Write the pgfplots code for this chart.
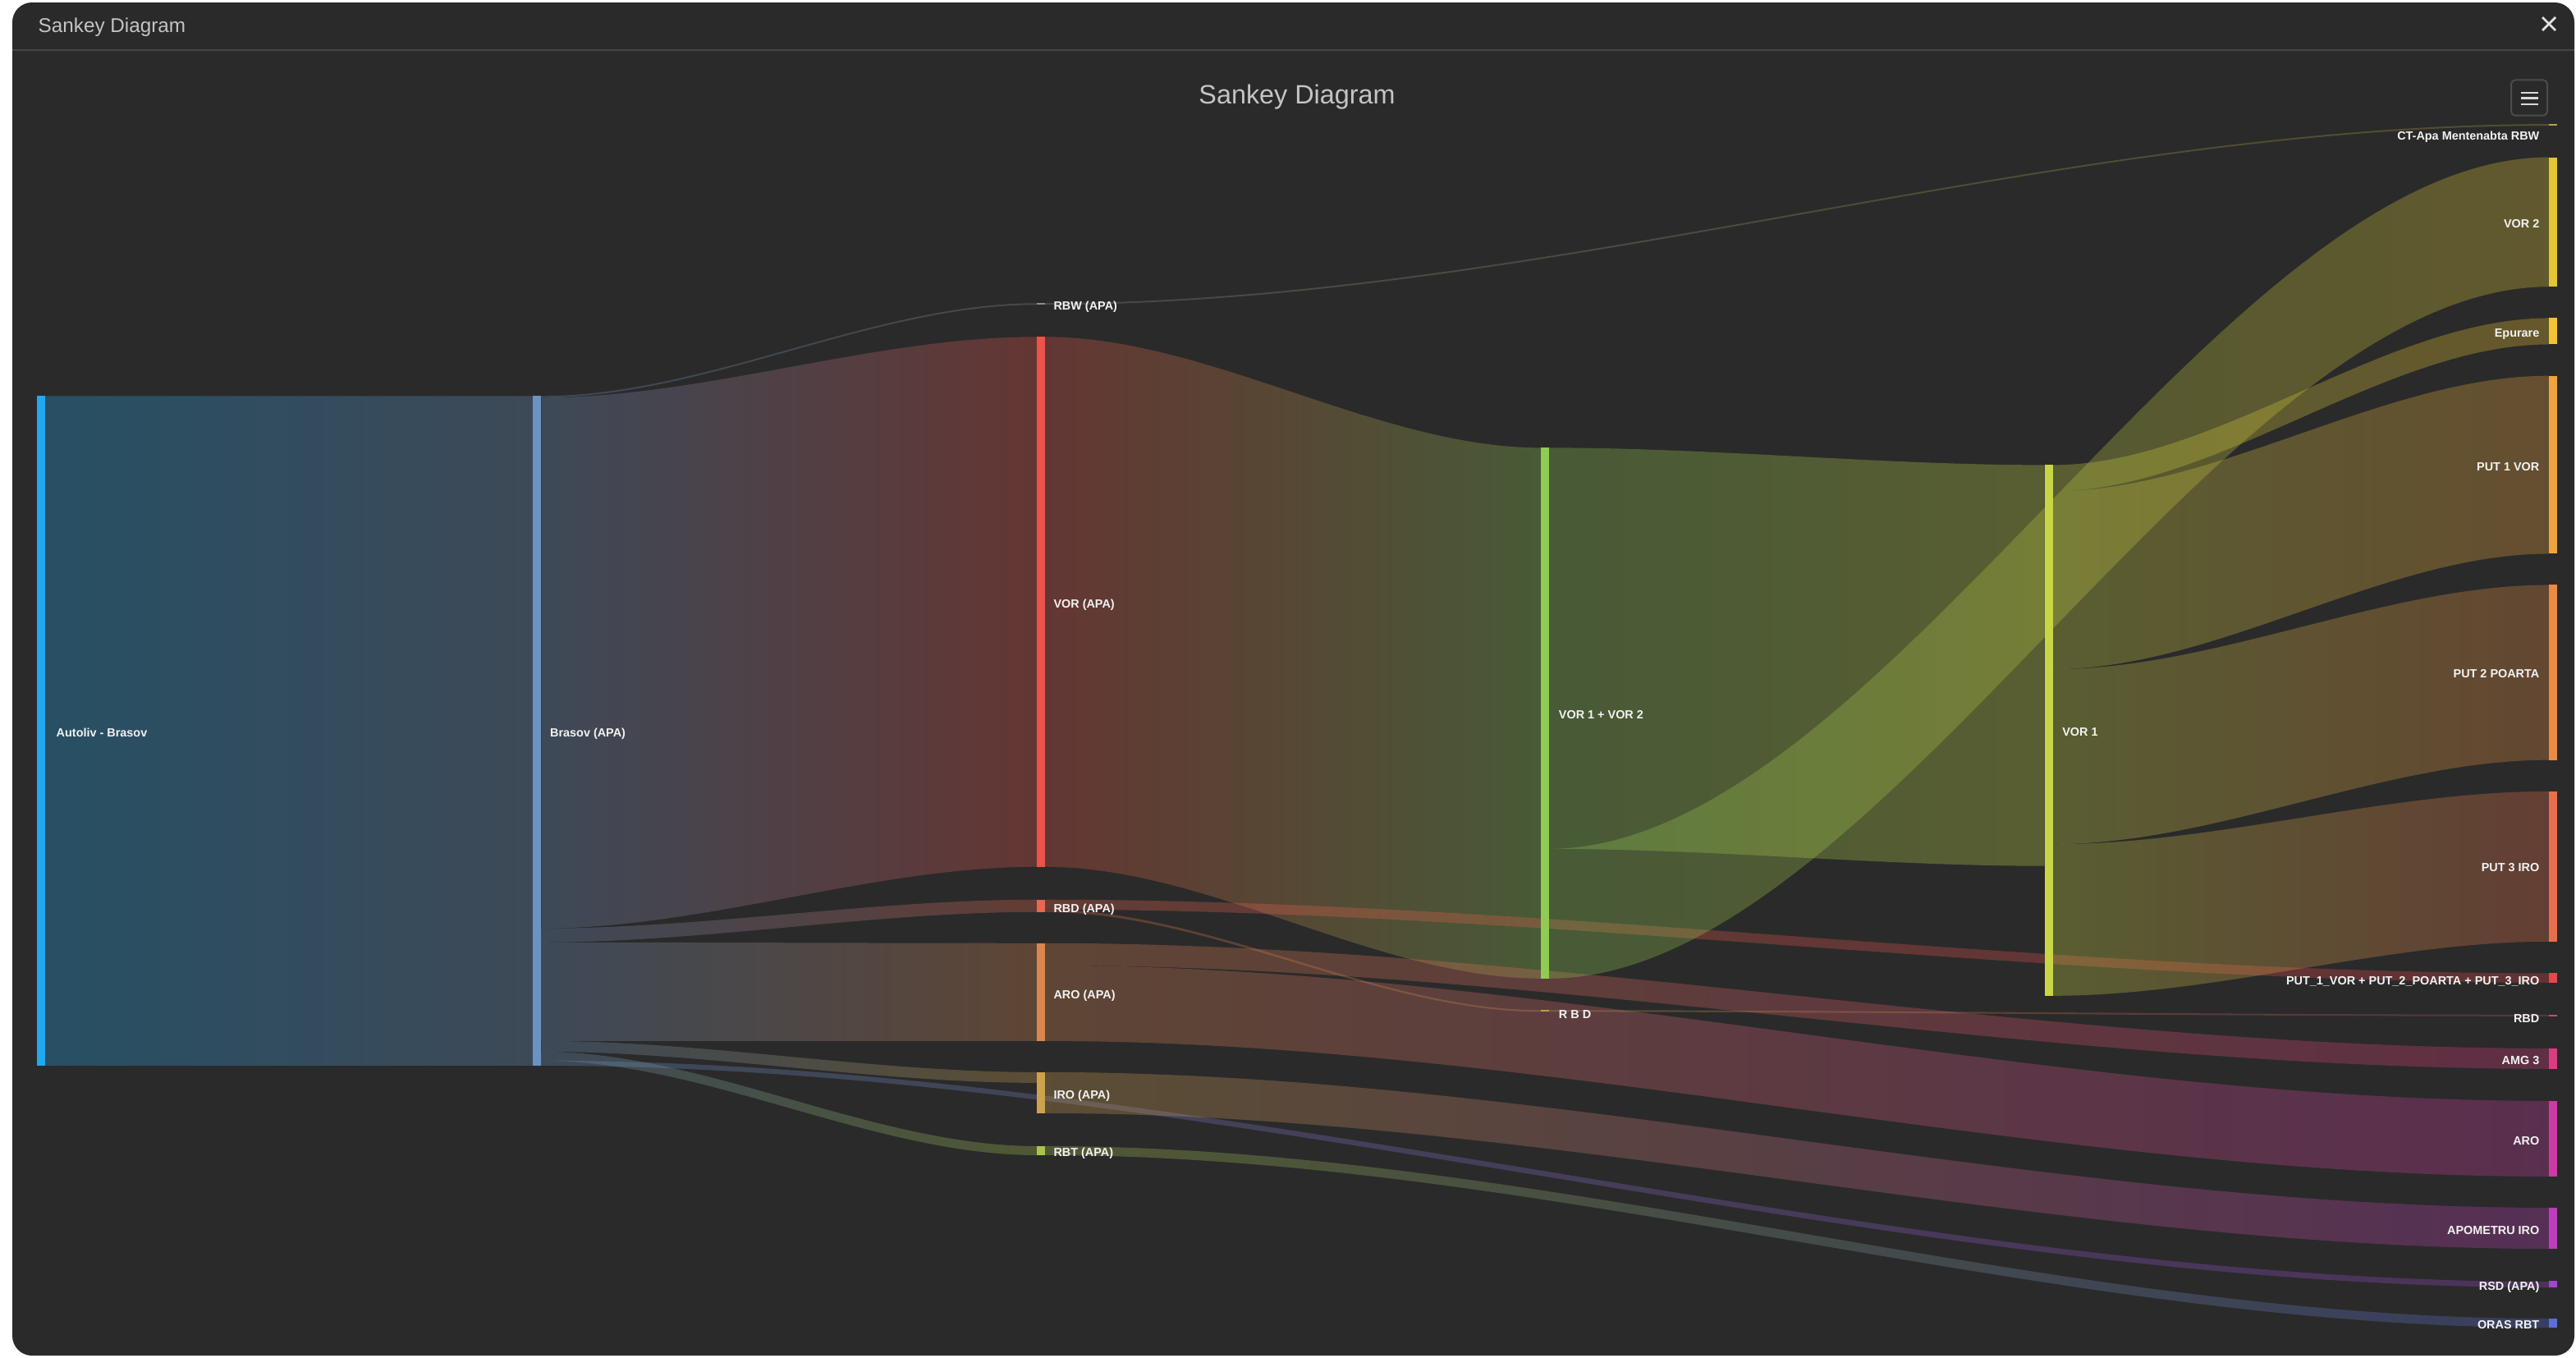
\documentclass[border=0pt]{standalone}
\usepackage{fontspec}
\setmainfont{Liberation Sans}
\usepackage{pgfplots}
\pgfplotsset{compat=1.18}

\definecolor{panel}{HTML}{2A2A2A}
\definecolor{sepline}{HTML}{464646}
\definecolor{labc}{HTML}{F2F2F2}
\definecolor{titlec}{HTML}{C4C4C4}
% node colours
\definecolor{cAut}{HTML}{22A8EC}
\definecolor{cBra}{HTML}{6B93C2}
\definecolor{cRBWa}{HTML}{8C9090}
\definecolor{cVORa}{HTML}{EB5448}
\definecolor{cRBDa}{HTML}{E6694F}
\definecolor{cAROa}{HTML}{D9864F}
\definecolor{cIROa}{HTML}{CDA24E}
\definecolor{cRBTa}{HTML}{A8C54A}
\definecolor{cV12}{HTML}{8FCB55}
\definecolor{cRBDm}{HTML}{B89F4A}
\definecolor{cV1}{HTML}{C8D545}
\definecolor{cCT}{HTML}{B0A540}
\definecolor{cV2}{HTML}{E4C634}
\definecolor{cEpu}{HTML}{F4C232}
\definecolor{cP1}{HTML}{EFA43E}
\definecolor{cP2}{HTML}{EC8A44}
\definecolor{cP3}{HTML}{E86E4D}
\definecolor{cPall}{HTML}{E6474F}
\definecolor{cRBD}{HTML}{D94462}
\definecolor{cAMG}{HTML}{DA3C82}
\definecolor{cARO}{HTML}{CC3AA6}
\definecolor{cAPO}{HTML}{BD3DBA}
\definecolor{cRSD}{HTML}{9E46CC}
\definecolor{cORAS}{HTML}{5B6FDB}

\newcommand{\lab}{\fontsize{4.1}{4.9}\selectfont\bfseries}

% link: x1, y1top, y1bot, x2, y2top, y2bot, colour from, colour to
\newcommand{\link}[8]{%
  \pgfplotsextra{%
    \pgfmathsetmacro\xca{#1+0.33*(#4-#1)}%
    \pgfmathsetmacro\xcb{#4-0.33*(#4-#1)}%
    \shade[left color=#7,right color=#8,opacity=0.3]
      (#1,#2) .. controls (\xca,#2) and (\xcb,#5) .. (#4,#5)
      -- (#4,#6) .. controls (\xcb,#6) and (\xca,#3) .. (#1,#3) -- cycle;
  }%
}
% node bar: x1, x2, ytop, ybot, colour
\newcommand{\nodebar}[5]{%
  \addplot[draw=none,fill=#5,forget plot] coordinates {(#1,#3) (#2,#3) (#2,#4) (#1,#4)} -- cycle;
}
\newcommand{\lblL}[3]{\node[anchor=mid west,inner sep=0pt,text=labc,font=\lab] at (#1,#2) {#3};}
\newcommand{\lblR}[2]{\node[anchor=mid east,inner sep=0pt,text=labc,font=\lab] at (1546,#1) {#2};}

\begin{document}
\begin{tikzpicture}
\begin{axis}[
  width=313.6mm, height=165.2mm, scale only axis,
  xmin=0, xmax=1568, ymin=0, ymax=826, y dir=reverse,
  hide axis, clip=false,
]
% window chrome
\pgfplotsextra{%
  \fill[white] (0,0) rectangle (1568,826);
  \fill[panel, rounded corners=2.4mm] (7.5,1.5) rectangle (1567,825);
  \draw[sepline, line width=0.2mm] (7.5,30.5) -- (1567,30.5);
  \node[anchor=base west, inner sep=0pt, text=titlec, font=\fontsize{6.9}{8}\selectfont] at (23,19.7) {Sankey Diagram};
  \draw[white!88!black, line width=0.28mm] (1547.5,10.5) -- (1555.5,18.5) (1547.5,18.5) -- (1555.5,10.5);
  \node[anchor=base, inner sep=0pt, text=titlec, font=\fontsize{9.2}{11}\selectfont] at (789.5,63.3) {Sankey Diagram};
  \draw[draw=white!16!panel, line width=0.2mm, rounded corners=0.5mm] (1528.5,48.7) rectangle (1550.5,70.3);
  \draw[white!85!black, line width=0.22mm] (1534.5,56.3) -- (1545,56.3) (1534.5,59.7) -- (1545,59.7) (1534.5,63.3) -- (1545,63.3);
}
% links
\link{27.5}{241}{648.5}{324.5}{241}{648.5}{cAut}{cBra}
\link{329.5}{241}{242}{631}{184.5}{185.5}{cBra}{cRBWa}
\link{329.5}{242}{565}{631}{205}{527.5}{cBra}{cVORa}
\link{329.5}{565}{573.5}{631}{547.5}{555}{cBra}{cRBDa}
\link{329.5}{573.5}{633.5}{631}{574}{633.5}{cBra}{cAROa}
\link{329.5}{633.5}{640}{631}{652.5}{659}{cBra}{cIROa}
\link{329.5}{640}{645.5}{631}{697.5}{703}{cBra}{cRBTa}
\link{329.5}{645.5}{648.5}{1551.5}{780}{783.5}{cBra}{cRSD}
\link{636}{184.5}{185.5}{1551.5}{75.5}{76.5}{cRBWa}{cCT}
\link{636}{205}{527.5}{938}{272.5}{595.5}{cVORa}{cV12}
\link{636}{547.5}{553.5}{1551.5}{592.3}{598}{cRBDa}{cPall}
\link{636}{553.5}{555}{938}{614.7}{615.8}{cRBDa}{cRBDm}
\link{636}{574}{587.5}{1551.5}{638}{650.5}{cAROa}{cAMG}
\link{636}{587.5}{633.5}{1551.5}{670}{716}{cAROa}{cARO}
\link{636}{652.5}{677.5}{1551.5}{735}{760}{cIROa}{cAPO}
\link{636}{697.5}{703}{1551.5}{802.5}{808}{cRBTa}{cORAS}
\link{943}{272.5}{516.6}{1244.5}{283}{527}{cV12}{cV1}
\link{943}{516.6}{595.5}{1551.5}{95.7}{174.5}{cV12}{cV2}
\link{943}{614.7}{615.8}{1551.5}{617.5}{618.5}{cRBDm}{cRBD}
\link{1249.5}{283}{299}{1551.5}{193.6}{209.6}{cV1}{cEpu}
\link{1249.5}{299}{407.3}{1551.5}{228.7}{337}{cV1}{cP1}
\link{1249.5}{407.3}{513.8}{1551.5}{356}{462.5}{cV1}{cP2}
\link{1249.5}{513.8}{606}{1551.5}{481.6}{573}{cV1}{cP3}
% nodes
\nodebar{22.5}{27.5}{241}{648.5}{cAut}
\nodebar{324.5}{329.5}{241}{648.5}{cBra}
\nodebar{631}{636}{184.5}{185.5}{cRBWa}
\nodebar{631}{636}{205}{527.5}{cVORa}
\nodebar{631}{636}{547.5}{555}{cRBDa}
\nodebar{631}{636}{574}{633.5}{cAROa}
\nodebar{631}{636}{652.5}{677.5}{cIROa}
\nodebar{631}{636}{697.5}{703}{cRBTa}
\nodebar{938}{943}{272.5}{595.5}{cV12}
\nodebar{938}{943}{614.7}{615.8}{cRBDm}
\nodebar{1244.5}{1249.5}{283}{606}{cV1}
\nodebar{1551.5}{1556.5}{75.5}{76.5}{cCT}
\nodebar{1551.5}{1556.5}{95.7}{174.5}{cV2}
\nodebar{1551.5}{1556.5}{193.6}{209.6}{cEpu}
\nodebar{1551.5}{1556.5}{228.7}{337}{cP1}
\nodebar{1551.5}{1556.5}{356}{462.5}{cP2}
\nodebar{1551.5}{1556.5}{481.6}{573}{cP3}
\nodebar{1551.5}{1556.5}{592.3}{598}{cPall}
\nodebar{1551.5}{1556.5}{617.5}{618.5}{cRBD}
\nodebar{1551.5}{1556.5}{638}{650.5}{cAMG}
\nodebar{1551.5}{1556.5}{670}{716}{cARO}
\nodebar{1551.5}{1556.5}{735}{760}{cAPO}
\nodebar{1551.5}{1556.5}{779.3}{783.7}{cRSD}
\nodebar{1551.5}{1556.5}{802.5}{808}{cORAS}
% labels
\lblL{34}{444}{Autoliv - Brasov}
\lblL{334.5}{444}{Brasov (APA)}
\lblL{641}{184}{RBW (APA)}
\lblL{641}{365.5}{VOR (APA)}
\lblL{641}{550.5}{RBD (APA)}
\lblL{641}{603}{ARO (APA)}
\lblL{641}{664}{IRO (APA)}
\lblL{641}{699}{RBT (APA)}
\lblL{948.5}{433}{VOR 1 + VOR 2}
\lblL{948.5}{615}{R B D}
\lblL{1255}{443.5}{VOR 1}
\lblR{80.5}{CT-Apa Mentenabta RBW}
\lblR{134}{VOR 2}
\lblR{200.5}{Epurare}
\lblR{282}{PUT 1 VOR}
\lblR{408}{PUT 2 POARTA}
\lblR{526}{PUT 3 IRO}
\lblR{594.5}{PUT\_1\_VOR + PUT\_2\_POARTA + PUT\_3\_IRO}
\lblR{617.5}{RBD}
\lblR{643}{AMG 3}
\lblR{692}{ARO}
\lblR{746.5}{APOMETRU IRO}
\lblR{780.5}{RSD (APA)}
\lblR{804}{ORAS RBT}
\end{axis}
\pgfresetboundingbox
\path[use as bounding box] (current axis.south west) rectangle (current axis.north east);
\end{tikzpicture}
\end{document}
